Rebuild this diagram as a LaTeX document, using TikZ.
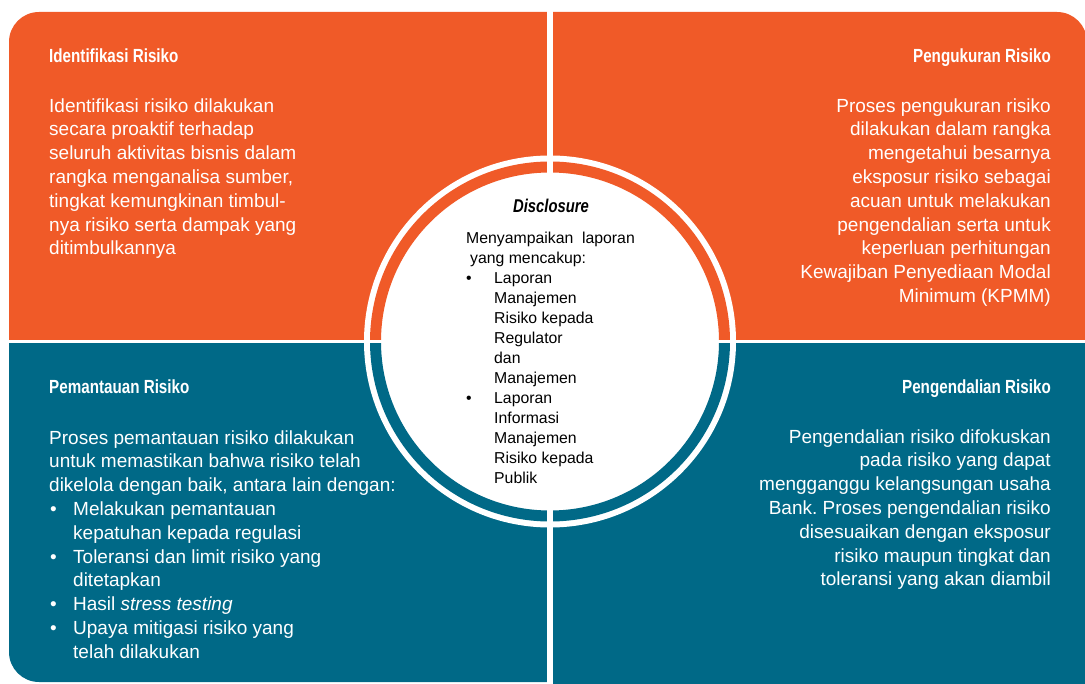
\documentclass[tikz,border=0pt]{standalone}
\usepackage{fontspec}
\setmainfont{Liberation Sans}
\newfontfamily\headfont[FakeStretch=0.8]{Liberation Sans}
\frenchspacing
\definecolor{riskorange}{RGB}{240,90,40}
\definecolor{riskteal}{RGB}{0,105,135}
\newcommand\riskbullet{\makebox[24pt][l]{\hspace{1pt}\textbullet}}
\newcommand\discbullet{\makebox[28pt][l]{\textbullet}}

\begin{document}
\begin{tikzpicture}[x=1pt, y=-1pt,
  quadtop/.style={fill=riskorange},
  quadbottom/.style={fill=riskteal},
  gap/.style={fill=white},
  head/.style={font=\headfont\bfseries\fontsize{19}{22}\selectfont, text=white, inner sep=0pt},
  body/.style={font=\fontsize{19}{23.8}\selectfont, text=white, inner sep=0pt},
  disc/.style={font=\fontsize{15.8}{20}\selectfont, text=black, inner sep=0pt, align=left}
]
\useasboundingbox (0,0) rectangle (1085,684);
\clip (0,0) rectangle (1085,684);

% four quadrants
\fill[quadtop] (548,340) -- (9,340) -- (9,42) arc[start angle=180, end angle=270, radius=30] -- (548,12) -- cycle;
\fill[quadtop] (553,340) -- (553,12) -- (1057,12) arc[start angle=270, end angle=360, radius=30] -- (1087,340) -- cycle;
\fill[quadbottom] (548,343) -- (9,343) -- (9,652) arc[start angle=180, end angle=90, radius=30] -- (548,682) -- cycle;
\fill[quadbottom] (553,343) -- (1100,343) -- (1100,700) -- (553,700) -- cycle;

% centre disc with split ring
\fill[white] (550,341.5) circle (186);
\fill[quadtop] (370,341.5) arc[start angle=180, end angle=360, radius=180] -- (719,341.5) arc[start angle=360, end angle=180, radius=169] -- cycle;
\fill[quadbottom] (730,341.5) arc[start angle=0, end angle=180, radius=180] -- (381,341.5) arc[start angle=180, end angle=0, radius=169] -- cycle;
\fill[gap] (547,0) rectangle (553,684);
\fill[gap] (0,340) rectangle (1085,343);

% top left
\node[head, anchor=base west] (idhead) at (49,63) {Identifikasi Risiko};
\node[body, align=left, anchor=north west] (idtext) at (49,95.3)
  {\strut Identifikasi risiko dilakukan\\ secara proaktif terhadap\\ seluruh aktivitas bisnis dalam\\
   rangka menganalisa sumber,\\ tingkat kemungkinan timbul-\\ nya risiko serta dampak yang\\ ditimbulkannya};

% top right
\node[head, anchor=base east] (ukurhead) at (1051,63) {Pengukuran Risiko};
\node[body, align=right, anchor=north east] (ukurtext) at (1051,95.3)
  {\strut Proses pengukuran risiko\\ dilakukan dalam rangka\\ mengetahui besarnya\\ eksposur risiko sebagai\\
   acuan untuk melakukan\\ pengendalian serta untuk\\ keperluan perhitungan\\ Kewajiban Penyediaan Modal\\ Minimum (KPMM)};

% bottom left
\node[head, anchor=base west] (pantauhead) at (49,394) {Pemantauan Risiko};
\node[body, align=left, anchor=north west] (pantautext) at (49,427.3)
  {\strut Proses pemantauan risiko dilakukan\\ untuk memastikan bahwa risiko telah\\ dikelola dengan baik, antara lain dengan:\\
   \riskbullet Melakukan pemantauan\\ \hspace*{24pt}kepatuhan kepada regulasi\\
   \riskbullet Toleransi dan limit risiko yang\\ \hspace*{24pt}ditetapkan\\
   \riskbullet Hasil \textit{stress testing}\\
   \riskbullet Upaya mitigasi risiko yang\\ \hspace*{24pt}telah dilakukan};

% bottom right
\node[head, anchor=base east] (kendalihead) at (1051,394) {Pengendalian Risiko};
\node[body, align=right, anchor=north east] (kendalitext) at (1051,426.3)
  {\strut Pengendalian risiko difokuskan\\ pada risiko yang dapat\\ mengganggu kelangsungan usaha\\
   Bank. Proses pengendalian risiko\\ disesuaikan dengan eksposur\\ risiko maupun tingkat dan\\ toleransi yang akan diambil};

% centre
\node[head, text=black, font=\headfont\bfseries\itshape\fontsize{18.5}{22}\selectfont, anchor=base] (dischead) at (551,213) {Disclosure};
\node[disc, anchor=north west] (disctext) at (466,229)
  {\strut Menyampaikan\ \ laporan\\ \hspace*{4pt}yang mencakup:\\
   \discbullet Laporan\\ \hspace*{28pt}Manajemen\\ \hspace*{28pt}Risiko kepada\\ \hspace*{28pt}Regulator\\
   \hspace*{28pt}dan\\ \hspace*{28pt}Manajemen\\
   \discbullet Laporan\\ \hspace*{28pt}Informasi\\ \hspace*{28pt}Manajemen\\ \hspace*{28pt}Risiko kepada\\ \hspace*{28pt}Publik};
\end{tikzpicture}
\end{document}
